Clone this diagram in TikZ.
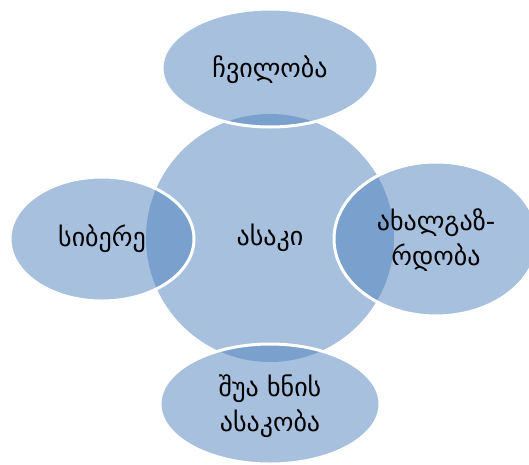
\documentclass[tikz,border=0pt]{standalone}
\usepackage{fontspec}
\setmainfont{DejaVu Sans}
\newfontfamily\geofont[Script=Georgian]{DejaVu Sans}
\definecolor{sablue}{RGB}{79,129,189}
\begin{document}
\begin{tikzpicture}[x=1pt,y=-1pt,
  blob/.style={fill=sablue, fill opacity=0.5, draw=white, draw opacity=1, line width=3pt, text opacity=1},
  lbl/.style={font=\geofont\fontsize{26}{35}\selectfont, text=black, align=center}]
\useasboundingbox (0,0) rectangle (529,464);
\fill[sablue, fill opacity=0.5] (270,238) circle [radius=124];
\path[blob] (270,68) ellipse [x radius=108, y radius=59];
\path[blob] (102,239) ellipse [x radius=92, y radius=62];
\path[blob] (436,239) ellipse [x radius=102, y radius=77];
\path[blob] (270,404) ellipse [x radius=110, y radius=60];
\node[lbl] (c) at (270,238) {ასაკი};
\node[lbl] (t) at (270,70) {ჩვილობა};
\node[lbl] (l) at (102,239) {სიბერე};
\node[lbl] (r) at (436,240) {ახალგაზ-\\რდობა};
\node[lbl] (b) at (270,406) {შუა ხნის\\ასაკობა};
\end{tikzpicture}
\end{document}
